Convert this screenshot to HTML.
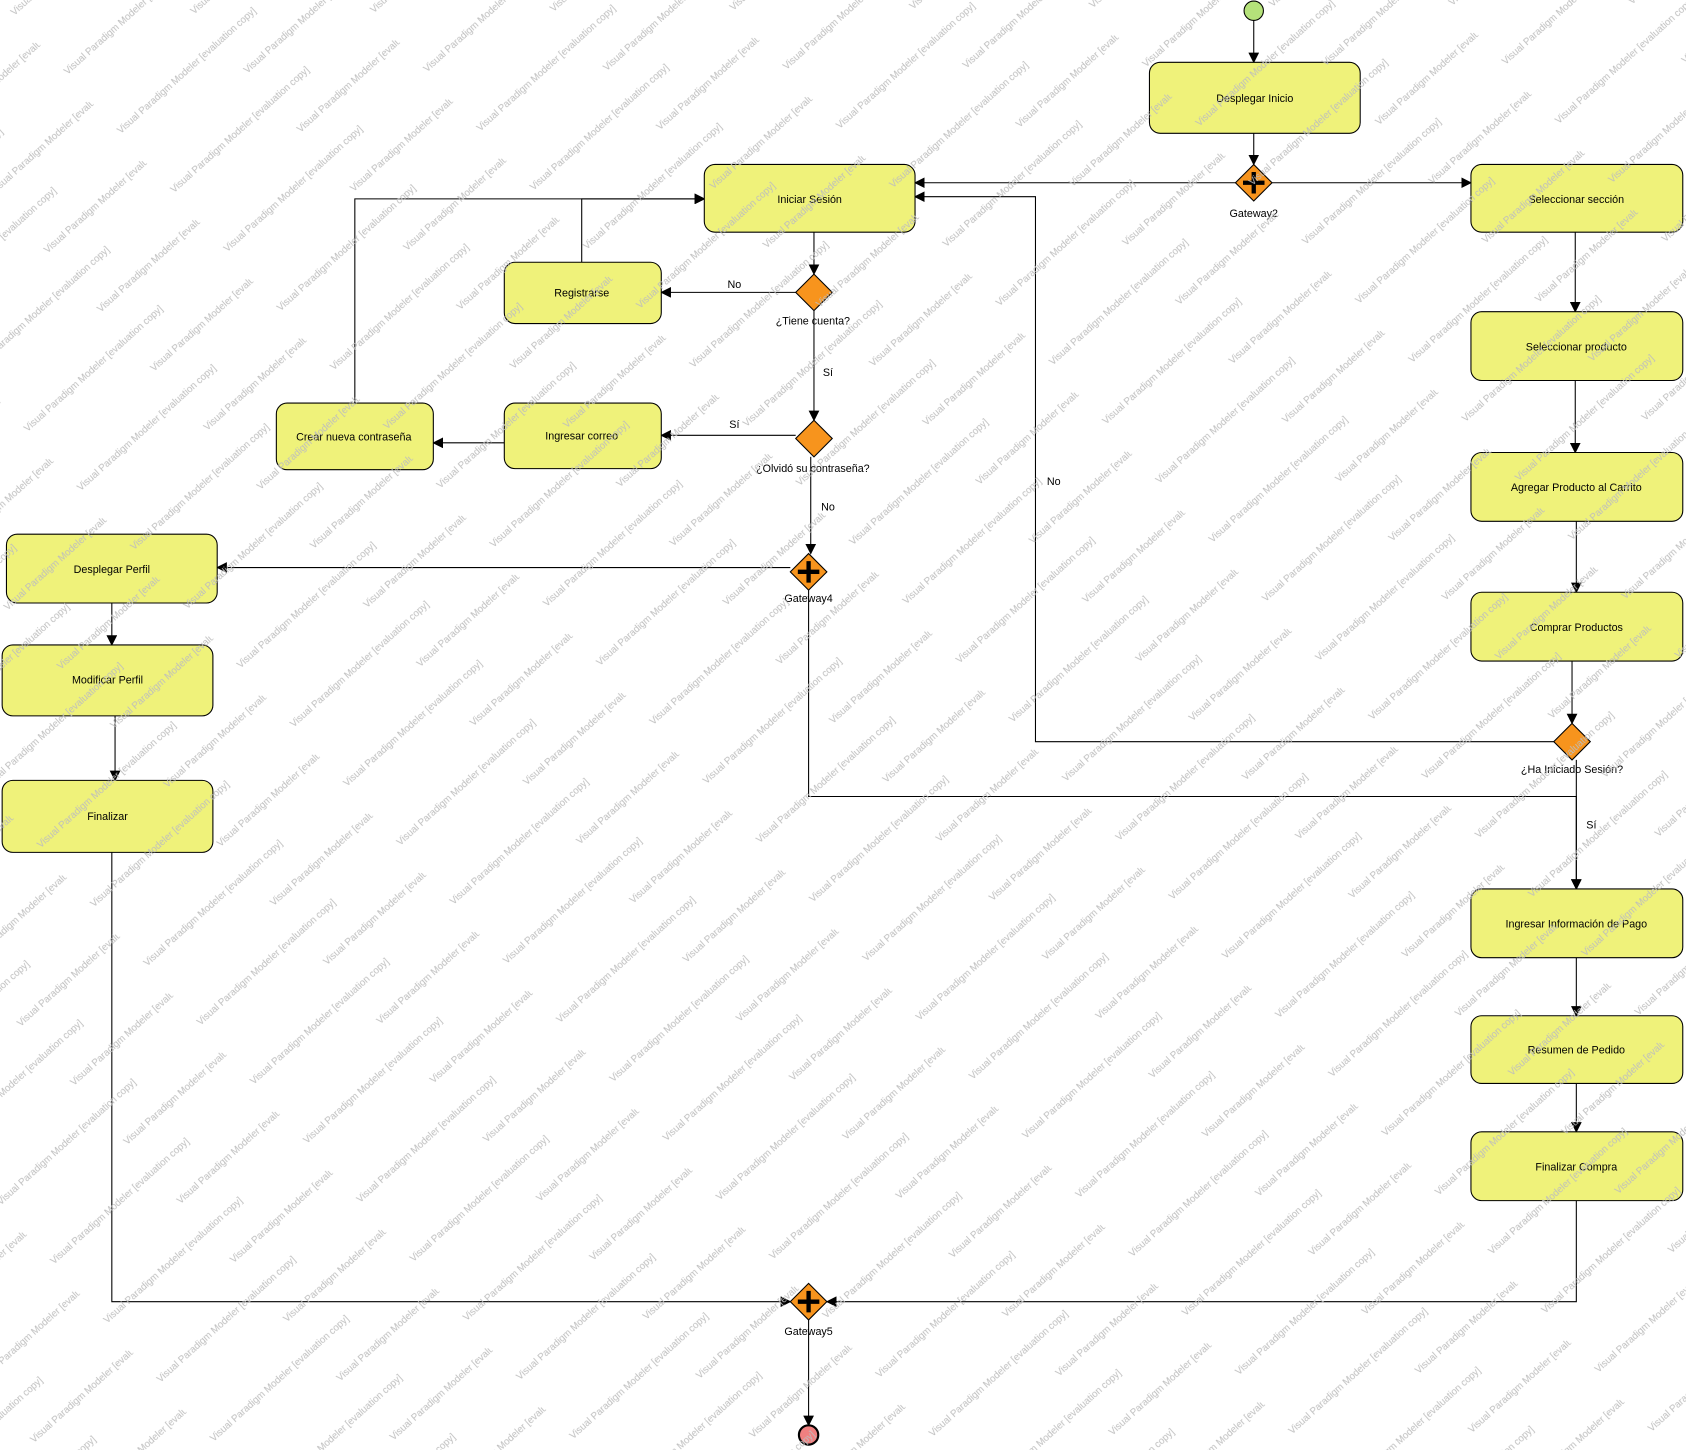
<!DOCTYPE html>
<html><head><meta charset="utf-8"><style>
html,body{margin:0;padding:0;background:#fff;}
svg{display:block;}
text{font-family:"Liberation Sans",sans-serif;}
</style></head><body>
<svg width="1686" height="1450" viewBox="0 0 1568 1349" preserveAspectRatio="none" xmlns="http://www.w3.org/2000/svg">
<defs>
<pattern id="wm" width="250" height="74" patternUnits="userSpaceOnUse" patternTransform="rotate(-42)">
<text x="0" y="20" font-size="9" fill="#bdbdbd">Visual Paradigm Modeler [evaluation copy]</text>
<text x="125" y="57" font-size="9" fill="#bdbdbd">Visual Paradigm Modeler [evaluation copy]</text>
</pattern>
<marker id="a" markerWidth="10" markerHeight="10" refX="9" refY="5" orient="auto" markerUnits="userSpaceOnUse"><path d="M0,0 L10,5 L0,10 z" fill="#000"/></marker>
</defs>
<rect width="1568" height="1349" fill="#fff"/>
<g fill="none" stroke="#000" stroke-width="1" marker-end="url(#a)">
<path d="M1166,19 V58"/>
<path d="M1166,124 V153"/>
<path d="M1149,170 H851"/>
<path d="M1183,170 H1368"/>
<path d="M757,216 V255"/>
<path d="M740,272 H615"/>
<path d="M541,244 V185 H655"/>
<path d="M330,375 V185 H655"/>
<path d="M757,289 V391"/>
<path d="M740,405 H615"/>
<path d="M469,412 H403"/>
<path d="M754,425 V515"/>
<path d="M735,528 H202"/>
<path d="M104,561 V600"/>
<path d="M107,666 V726"/>
<path d="M104,793 V1211 H735"/>
<path d="M752,549 V741 H1466 V827"/>
<path d="M1445,690 H963 V183 H851"/>
<path d="M1465,216 V290"/>
<path d="M1465,354 V421"/>
<path d="M1466,485 V551"/>
<path d="M1462,615 V673"/>
<path d="M1466,707 V827"/>
<path d="M1466,891 V945"/>
<path d="M1466,1008 V1053"/>
<path d="M1466,1117 V1211 H769"/>
<path d="M752,1228 V1326"/>
</g>
<g stroke="#000" stroke-width="1" fill="#eff27a">
<rect x="1069" y="58" width="196" height="66" rx="10"/>
<rect x="655" y="153" width="196" height="63" rx="10"/>
<rect x="1368" y="153" width="197" height="63" rx="10"/>
<rect x="469" y="244" width="146" height="57" rx="10"/>
<rect x="257" y="375" width="146" height="62" rx="10"/>
<rect x="469" y="375" width="146" height="61" rx="10"/>
<rect x="6" y="497" width="196" height="64" rx="10"/>
<rect x="2" y="600" width="196" height="66" rx="10"/>
<rect x="2" y="726" width="196" height="67" rx="10"/>
<rect x="1368" y="290" width="197" height="64" rx="10"/>
<rect x="1368" y="421" width="197" height="64" rx="10"/>
<rect x="1368" y="551" width="197" height="64" rx="10"/>
<rect x="1368" y="827" width="197" height="64" rx="10"/>
<rect x="1368" y="945" width="197" height="63" rx="10"/>
<rect x="1368" y="1053" width="197" height="64" rx="10"/>
</g>
<g stroke="#000" stroke-width="1" fill="#f7941d">
<path d="M1166,153 L1183,170 L1166,187 L1149,170 z"/>
<path d="M757,255 L774,272 L757,289 L740,272 z"/>
<path d="M757,391 L774,408 L757,425 L740,408 z"/>
<path d="M752,515 L769,532 L752,549 L735,532 z"/>
<path d="M1462,673 L1479,690 L1462,707 L1445,690 z"/>
<path d="M752,1194 L769,1211 L752,1228 L735,1211 z"/>
</g>
<g stroke="#000" stroke-width="4">
<path d="M1156,170 H1176 M1166,160 V180"/>
<path d="M742,532 H762 M752,522 V542"/>
<path d="M742,1211 H762 M752,1201 V1221"/>
</g>
<circle cx="1166" cy="10" r="9" fill="#b5e27a" stroke="#000"/>
<circle cx="752" cy="1335" r="9" fill="#f08080" stroke="#000" stroke-width="2"/>
<g font-size="10" fill="#000" text-anchor="middle">
<text x="1167" y="95">Desplegar Inicio</text>
<text x="753" y="189">Iniciar Sesión</text>
<text x="1466" y="189">Seleccionar sección</text>
<text x="541" y="276">Registrarse</text>
<text x="329" y="410">Crear nueva contraseña</text>
<text x="541" y="409">Ingresar correo</text>
<text x="104" y="533">Desplegar Perfil</text>
<text x="100" y="636">Modificar Perfil</text>
<text x="100" y="763">Finalizar</text>
<text x="1466" y="326">Seleccionar producto</text>
<text x="1466" y="457">Agregar Producto al Carrito</text>
<text x="1466" y="587">Comprar Productos</text>
<text x="1466" y="863">Ingresar Información de Pago</text>
<text x="1466" y="980">Resumen de Pedido</text>
<text x="1466" y="1089">Finalizar Compra</text>
<text x="1166" y="202">Gateway2</text>
<text x="756" y="302">¿Tiene cuenta?</text>
<text x="756" y="439">¿Olvidó su contraseña?</text>
<text x="752" y="560">Gateway4</text>
<text x="1462" y="719">¿Ha Iniciado Sesión?</text>
<text x="752" y="1242">Gateway5</text>
<text x="683" y="268">No</text>
<text x="770" y="350">Sí</text>
<text x="683" y="398">Sí</text>
<text x="770" y="475">No</text>
<text x="980" y="451">No</text>
<text x="1480" y="771">Sí</text>
</g>
<rect width="1568" height="1349" fill="url(#wm)"/>
</svg>
</body></html>
